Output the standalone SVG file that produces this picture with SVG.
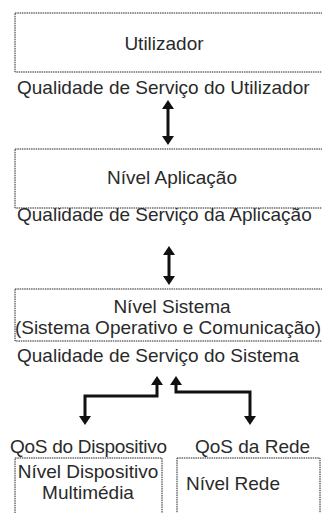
<svg xmlns="http://www.w3.org/2000/svg" width="322" height="513" viewBox="0 0 322 513">
<defs>
<style>
.box{fill:#fff;stroke:#222;stroke-width:1;stroke-dasharray:1.5 0.8}
.t{font-family:"Liberation Sans",Arial,sans-serif;font-size:19px;fill:#2a2a2a}
.m{text-anchor:middle}
.c{fill:none;stroke:#111;stroke-width:3;marker-start:url(#ah);marker-end:url(#ah)}
</style>
<marker id="ah" markerUnits="userSpaceOnUse" markerWidth="9" markerHeight="12" viewBox="0 0 9 12" refX="1" refY="6" orient="auto-start-reverse">
<path d="M0,0 L9,6 L0,12 z" fill="#111"/>
</marker>
</defs>
<rect width="322" height="513" fill="#fff"/>
<g id="utilizador">
<rect class="box" x="15" y="13" width="310" height="59"/>
<text class="t m" x="164" y="50">Utilizador</text>
</g>
<g id="qos-utilizador"><text class="t" x="17" y="94">Qualidade de Serviço do Utilizador</text></g>
<g id="aplicacao">
<rect class="box" x="15" y="149" width="310" height="59"/>
<text class="t m" x="172" y="184">Nível Aplicação</text>
</g>
<g id="qos-aplicacao"><text class="t" x="17" y="221">Qualidade de Serviço da Aplicação</text></g>
<g id="sistema">
<rect class="box" x="15" y="289" width="310" height="52"/>
<text class="t m" x="172" y="313">Nível Sistema</text>
<text class="t m" x="168" y="334">(Sistema Operativo e Comunicação)</text>
</g>
<g id="qos-sistema"><text class="t" x="17" y="362">Qualidade de Serviço do Sistema</text></g>
<g id="qos-dispositivo"><text class="t" x="10" y="453" textLength="157">QoS do Dispositivo</text></g>
<g id="qos-rede"><text class="t" x="195" y="453">QoS da Rede</text></g>
<g id="dispositivo">
<rect class="box" x="15" y="458" width="147" height="60"/>
<text class="t m" x="88" y="478">Nível Dispositivo</text>
<text class="t m" x="88" y="499">Multimédia</text>
</g>
<g id="rede">
<rect class="box" x="177" y="458" width="143" height="60"/>
<text class="t m" x="233" y="490">Nível Rede</text>
</g>
<g id="connectors">
<path class="c" d="M168,108 V137"/>
<path class="c" d="M169,254 V277"/>
<path class="c" d="M157,384 V396 H85 V417"/>
<path class="c" d="M176,384 V392 H250 V417"/>
</g>
</svg>
